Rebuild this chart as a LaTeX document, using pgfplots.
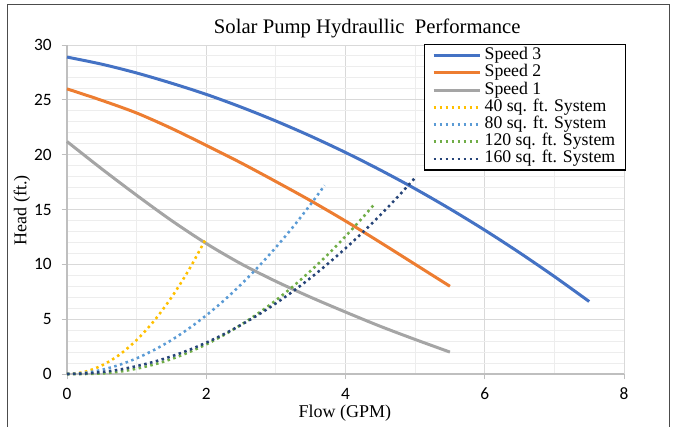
\documentclass[border=0pt]{standalone}
\usepackage{pgfplots}
\pgfplotsset{compat=1.18}
\usepackage{fontspec}
\setmainfont{Liberation Serif}
\newfontfamily\carlito{Carlito}
\definecolor{sthree}{HTML}{4472C4}
\definecolor{stwo}{HTML}{ED7D31}
\definecolor{sone}{HTML}{A5A5A5}
\definecolor{cforty}{HTML}{FFC000}
\definecolor{ceighty}{HTML}{5B9BD5}
\definecolor{conetwenty}{HTML}{70AD47}
\definecolor{conesixty}{HTML}{264478}
\begin{document}
\begin{tikzpicture}
\path[use as bounding box] (-50.25pt,-39pt) rectangle (454.5pt,280.5pt);
\draw[black!70, line width=0.75pt] (-44.25pt,-40pt) -- (-44.25pt,277.5pt) -- (451.5pt,277.5pt) -- (451.5pt,-40pt);
\begin{axis}[
  scale only axis,
  width=417.75pt, height=246.75pt,
  xmin=0, xmax=8, ymin=0, ymax=30,
  xtick={0,2,4,6,8}, ytick={0,5,10,15,20,25,30},
  minor x tick num=1, minor y tick num=4,
  grid=both,
  major grid style={draw=black!15, line width=0.75pt},
  minor grid style={draw=black!7, line width=0.75pt},
  axis lines*=left,
  axis line style={draw=black!25, line width=1pt},
  tick align=outside,
  major tick length=4pt, minor tick length=0pt,
  tick style={draw=black!25, line width=0.75pt},
  /pgf/number format/assume math mode=true,
  tick label style={font=\carlito\fontsize{13}{13}\selectfont},
  xticklabel style={yshift=-3pt},
  yticklabel style={xshift=-4pt},
  title={Solar Pump Hydraullic\ \ Performance},
  title style={at={(rel axis cs:0.539,1.025)}, anchor=center, yshift=0pt, font=\fontsize{15.5}{16}\selectfont},
  xlabel={Flow (GPM)},
  xlabel style={at={(rel axis cs:0.499,-0.1185)}, anchor=center, font=\fontsize{13.5}{14}\selectfont},
  ylabel={Head (ft.)},
  ylabel style={at={(rel axis cs:-0.081,0.498)}, anchor=center, rotate=0, font=\fontsize{13.5}{14}\selectfont},
  legend cell align=left,
  legend style={at={(rel axis cs:0.641,1.003)}, anchor=north west, draw=black, line width=1pt, fill=white,
    font=\fontsize{13.3}{13}\selectfont, inner xsep=5.5pt, inner ysep=1.8pt, row sep=0pt,
    nodes={inner ysep=0pt, inner xsep=2.2pt, text height=9.4pt, text depth=3.5pt}},
  legend image code/.code={\draw[#1] (0pt,0pt) -- (35pt,0pt);},
  clip=false,
  every axis plot/.append style={smooth, tension=0.5},
]
\addplot[sthree, line width=2.25pt] coordinates {(0,28.9) (0.5,28.25) (1,27.45) (1.5,26.52) (2,25.5) (2.5,24.34) (3,23.07) (3.5,21.69) (4,20.2) (4.5,18.6) (5,16.89) (5.5,15.06) (6,13.12) (6.5,11.06) (7,8.89) (7.5,6.61)};
\addlegendentry{Speed 3}
\addplot[stwo, line width=2.25pt] coordinates {(0,26.0) (0.5,24.95) (1,23.8) (1.5,22.4) (2,20.85) (2.5,19.25) (3,17.55) (3.5,15.8) (4,13.95) (4.5,12.0) (5,10.0) (5.5,8.0)};
\addlegendentry{Speed 2}
\addplot[sone, line width=2.25pt] coordinates {(0,21.2) (0.5,18.7) (1,16.3) (1.5,14.0) (2,11.9) (2.5,10.05) (3,8.45) (3.5,7.0) (4,5.65) (4.5,4.35) (5,3.15) (5.5,2.0)};
\addlegendentry{Speed 1}
\addplot[cforty, line width=1.9pt, dash pattern=on 1.9pt off 2.6pt] coordinates {(0,0) (0.25,0.19) (0.5,0.78) (0.75,1.74) (1,3.1) (1.25,4.84) (1.5,6.98) (1.75,9.49) (2,12.4)};
\addlegendentry{40 sq. ft. System}
\addplot[ceighty, line width=1.9pt, dash pattern=on 1.9pt off 2.6pt] coordinates {(0,0) (0.25,0.10) (0.5,0.38) (0.75,0.83) (1,1.43) (1.25,2.19) (1.5,3.09) (1.75,4.15) (2,5.35) (2.25,6.68) (2.5,8.17) (2.75,9.79) (3,11.55) (3.25,13.44) (3.5,15.48) (3.7,17.2)};
\addlegendentry{80 sq. ft. System}
\addplot[conetwenty, line width=1.9pt, dash pattern=on 1.9pt off 2.6pt] coordinates {(0,0) (0.25,0) (0.5,0.05) (0.75,0.21) (1,0.48) (1.25,0.87) (1.5,1.36) (1.75,1.98) (2,2.70) (2.25,3.54) (2.5,4.49) (2.75,5.55) (3,6.72) (3.25,8.01) (3.5,9.41) (3.75,10.92) (4,12.55) (4.25,14.29) (4.4,15.38)};
\addlegendentry{120 sq. ft. System}
\addplot[conesixty, line width=1.9pt, dash pattern=on 1.9pt off 2.6pt] coordinates {(0,0) (0.25,0.04) (0.5,0.18) (0.75,0.40) (1,0.72) (1.25,1.12) (1.5,1.61) (1.75,2.19) (2,2.86) (2.25,3.62) (2.5,4.48) (2.75,5.41) (3,6.44) (3.25,7.56) (3.5,8.77) (3.75,10.07) (4,11.46) (4.25,12.93) (4.5,14.5) (4.75,16.15) (5,17.9)};
\addlegendentry{160 sq. ft. System}
\end{axis}
\end{tikzpicture}
\end{document}
